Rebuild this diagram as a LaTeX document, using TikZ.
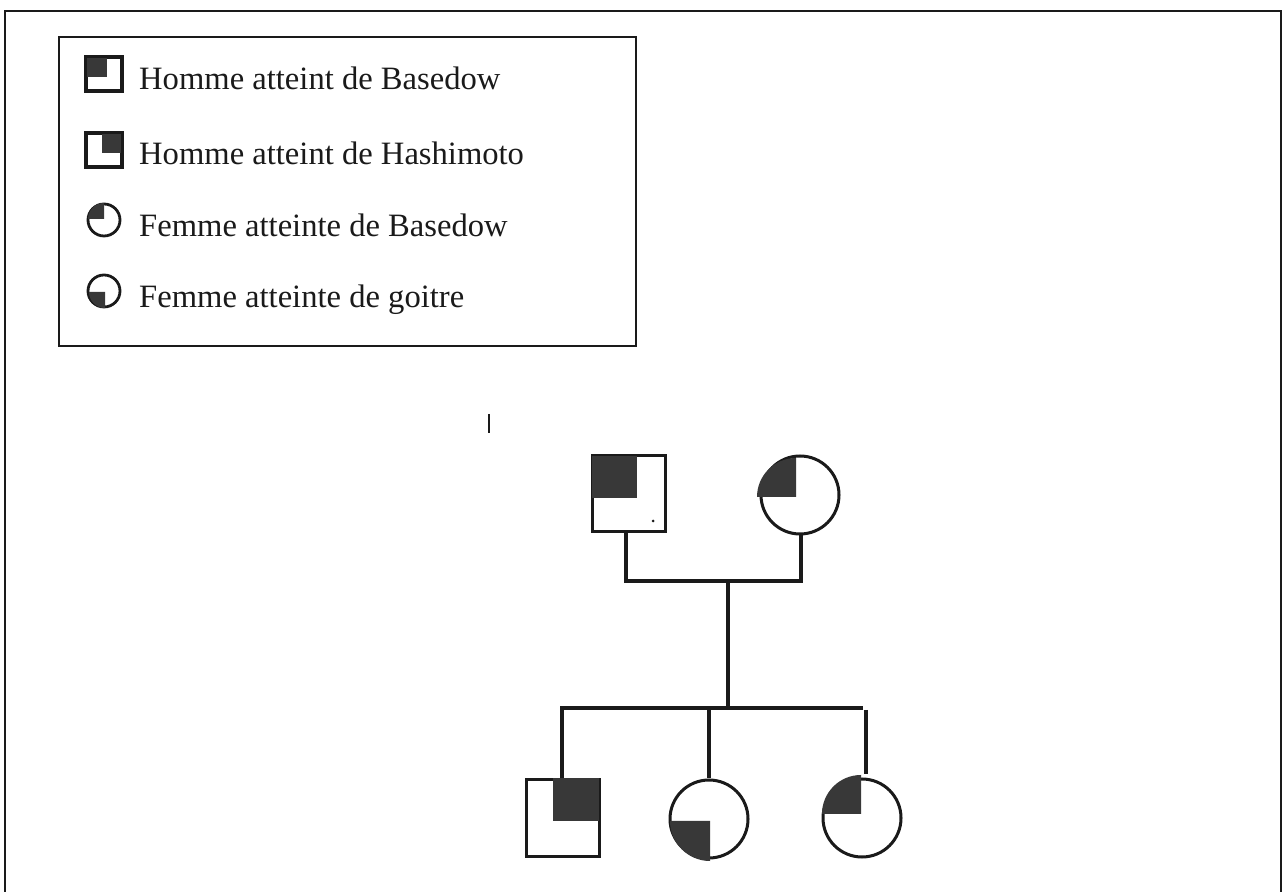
\documentclass[tikz,border=0pt]{standalone}
\usepackage{fontspec}
\setmainfont{Liberation Serif}
\definecolor{ink}{HTML}{1A1A1A}
\definecolor{shade}{HTML}{383838}
\begin{document}
\begin{tikzpicture}[x=1pt,y=1pt,
  frame/.style={draw=ink,line width=2.4pt},
  link/.style={draw=ink,line width=3.2pt},
  male/.style={draw=ink,line width=3pt,rectangle,minimum width=73pt,minimum height=76pt,inner sep=0pt},
  female/.style={draw=ink,line width=3pt,circle,minimum size=78pt,inner sep=0pt},
  keymale/.style={draw=ink,line width=2.8pt,rectangle,minimum width=34pt,minimum height=32pt,inner sep=0pt},
  keyfemale/.style={draw=ink,line width=2.8pt,circle,minimum size=32pt,inner sep=0pt},
  keytext/.style={anchor=base west,inner sep=0pt,text=ink,font=\fontsize{32.6}{38}\selectfont},
  dark/.style={fill=shade}]
\useasboundingbox (0,0) rectangle (1284,891);
\fill[white] (0,0) rectangle (1284,891);

% outer frame (open at the bottom)
\draw[frame] (5,-5) -- (5,880) -- (1281,880) -- (1281,-5);

% legend
\node[frame,rectangle,minimum width=577pt,minimum height=309pt,inner sep=0pt] (legend) at (347.5,699.5) {};

\node[keymale] (k1) at (104,817) {};
\fill[dark] (87,814) rectangle (107,833);
\draw[ink,line width=2.8pt] (k1.south west) rectangle (k1.north east);
\node[keytext] (t1) at (139,801) {Homme atteint de Basedow};

\node[keymale] (k2) at (104,741) {};
\fill[dark] (102,738) rectangle (121,757);
\draw[ink,line width=2.8pt] (k2.south west) rectangle (k2.north east);
\node[keytext] (t2) at (139,726) {Homme atteint de Hashimoto};

\node[keyfemale] (k3) at (104,671) {};
\fill[dark] (104,672) -- ++(-16,0) arc[start angle=180,end angle=90,radius=16] -- cycle;
\node[keytext] (t3) at (139,654) {Femme atteinte de Basedow};

\node[keyfemale] (k4) at (104,600) {};
\fill[dark] (105,599) -- ++(0,-16) arc[start angle=270,end angle=180,radius=16] -- cycle;
\node[keytext] (t4) at (139,583) {Femme atteinte de goitre};

% small stroke above the pedigree
\coordinate (tickA) at (489,477);
\coordinate (tickB) at (489,458);
\draw[ink,line width=2.4pt] (tickA) -- (tickB);

% parents
\node[male] (father) at (628.5,397) {};
\node[female] (mother) at (800,396) {};
\fill[dark] (592,393) rectangle (637,435);
\fill[dark] (796,394) -- ++(-39,0) arc[start angle=180,end angle=90,radius=39] -- cycle;
\fill[ink] (653,370) circle[radius=1.5];

% children
\node[male] (son) at (562.5,73) {};
\node[female] (daughterA) at (709,72) {};
\node[female] (daughterB) at (862,73) {};
\fill[dark] (553,70) rectangle (599,113);
\fill[dark] (710,70) -- ++(0,-40) arc[start angle=270,end angle=180,radius=40] -- cycle;
\fill[dark] (861,77) -- ++(-39,0) arc[start angle=180,end angle=90,radius=39] -- cycle;

% couple line and descent
\coordinate (fjoin) at (626,310);
\coordinate (mjoin) at (801,310);
\coordinate (cjoin) at (728,310);
\coordinate (sjoin) at (728,183);
\coordinate (sleft) at (562,183);
\coordinate (sright) at (863,183);
\coordinate (bdrop) at (866,181);
\draw[link] (fjoin |- father.south) -- (fjoin) -- (mjoin) -- (mjoin |- mother.south);
\draw[link] (cjoin) -- (sjoin);

% sibship line and drops to the children
\draw[link] (sleft |- son.north) -- (sleft) -- (sright);
\draw[link] (daughterA.north) -- (daughterA.north |- sjoin);
\draw[link] (bdrop) -- (bdrop |- 0,117);
\end{tikzpicture}
\end{document}
